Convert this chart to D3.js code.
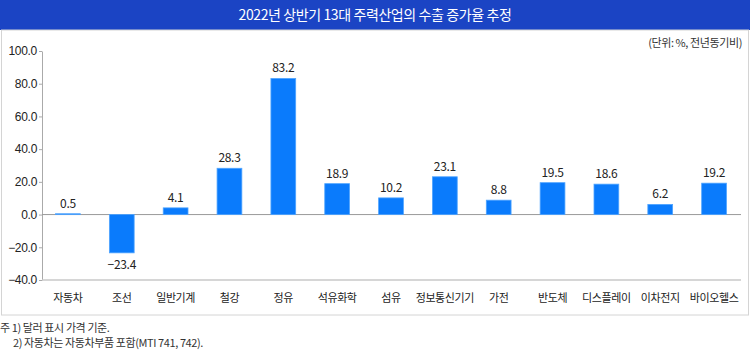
<!DOCTYPE html>
<html>
<head>
<meta charset="utf-8">
<script src="https://cdn.jsdelivr.net/npm/d3@7"></script>
<style>
  body { margin: 0; background: #fff; }
  svg { display: block; font-family: "Noto Sans CJK KR", "Noto Sans", sans-serif; }
</style>
</head>
<body>
<div id="chart"></div>
<script>
// data
const categories = ["자동차", "조선", "일반기계", "철강", "정유", "석유화학", "섬유",
    "정보통신기기", "가전", "반도체", "디스플레이", "이차전지", "바이오헬스"];
const growth = [0.5, -23.4, 4.1, 28.3, 83.2, 18.9, 10.2, 23.1, 8.8, 19.5, 18.6, 6.2, 19.2];
const yTicks = [-40, -20, 0, 20, 40, 60, 80, 100];
const title = "2022년 상반기 13대 주력산업의 수출 증가율 추정";
const unitNote = "(단위: %, 전년동기비)";
const footnotes = ["주 1) 달러 표시 가격 기준.", "2) 자동차는 자동차부품 포함(MTI 741, 742)."];

const width = 750, height = 351;
const svg = d3.select("#chart").append("svg")
    .attr("width", width)
    .attr("height", height);

const fmt = v => (v < 0 ? "\u2212" : "") + Math.abs(v).toFixed(1);

// title bar
svg.append("rect")
    .attr("x", 0).attr("y", 0)
    .attr("width", width).attr("height", 30)
    .attr("fill", "#1b44c4");
svg.append("text")
    .attr("x", width / 2).attr("y", 20)
    .attr("text-anchor", "middle")
    .attr("fill", "#fff")
    .attr("font-size", 14)
    .attr("letter-spacing", -0.4)
    .text(title);

// outer box
svg.append("rect")
    .attr("x", 1.5).attr("y", 30)
    .attr("width", width - 3).attr("height", 285)
    .attr("fill", "none")
    .attr("stroke", "#d4d4d4");

svg.append("text")
    .attr("x", 742).attr("y", 47)
    .attr("text-anchor", "end")
    .attr("fill", "#333")
    .attr("font-size", 11)
    .attr("letter-spacing", -0.4)
    .text(unitNote);

// scales
const x = d3.scaleBand()
    .domain(categories)
    .range([41, 741])
    .paddingInner(0.54)
    .paddingOuter(0.27);

const y = d3.scaleLinear()
    .domain([-40, 100])
    .range([280, 51]);

// y axis
const yAxis = svg.append("g")
    .attr("transform", "translate(42,0)")
    .call(d3.axisLeft(y).tickValues(yTicks).tickFormat(fmt).tickSize(3).tickSizeOuter(0));
yAxis.select(".domain").attr("stroke", "#aaa");
yAxis.selectAll(".tick line").attr("stroke", "#aaa");
yAxis.selectAll(".tick text")
    .attr("fill", "#222")
    .attr("font-size", 12)
    .attr("x", -5)
    .attr("letter-spacing", -0.3);

// bottom line and zero line
svg.append("line")
    .attr("x1", 42).attr("x2", 741)
    .attr("y1", y(-40)).attr("y2", y(-40))
    .attr("stroke", "#c8c8c8").attr("stroke-width", 1.5);

svg.append("line")
    .attr("x1", 42).attr("x2", 741)
    .attr("y1", y(0)).attr("y2", y(0))
    .attr("stroke", "#999");

// bars
svg.selectAll("rect.bar")
    .data(growth)
    .join("rect")
    .attr("class", "bar")
    .attr("x", (d, i) => x(categories[i]))
    .attr("width", x.bandwidth())
    .attr("y", d => y(Math.max(0, d)))
    .attr("height", d => Math.abs(y(d) - y(0)))
    .attr("fill", "#0a7bfc")
    .attr("stroke", "#4ea4ff")
    .attr("stroke-width", 0.8);

// value labels
svg.selectAll("text.val")
    .data(growth)
    .join("text")
    .attr("class", "val")
    .attr("x", (d, i) => x(categories[i]) + x.bandwidth() / 2)
    .attr("y", d => d >= 0 ? y(d) - 6 : y(d) + 16)
    .attr("text-anchor", "middle")
    .attr("fill", "#222")
    .attr("font-size", 12)
    .attr("letter-spacing", -0.3)
    .text(fmt);

// category labels
svg.selectAll("text.cat")
    .data(categories)
    .join("text")
    .attr("class", "cat")
    .attr("x", d => x(d) + x.bandwidth() / 2)
    .attr("y", 302)
    .attr("text-anchor", "middle")
    .attr("fill", "#222")
    .attr("font-size", 11)
    .attr("letter-spacing", -0.4)
    .text(d => d);

// footnotes
svg.append("text")
    .attr("x", 0).attr("y", 332)
    .attr("fill", "#333").attr("font-size", 11).attr("letter-spacing", -0.4)
    .text(footnotes[0]);
svg.append("text")
    .attr("x", 13).attr("y", 347)
    .attr("fill", "#333").attr("font-size", 11).attr("letter-spacing", -0.4)
    .text(footnotes[1]);
</script>
</body>
</html>
